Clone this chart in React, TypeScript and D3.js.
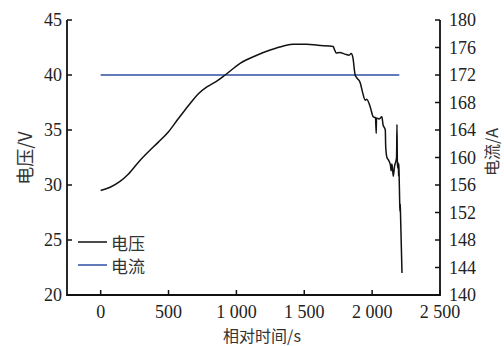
import React from "react";
import * as d3 from "d3";

const timeS = [0, 70, 140, 205, 280, 350, 425, 500, 570, 620, 671, 720, 780, 850, 917, 1027, 1150, 1249, 1347, 1420, 1519, 1600, 1713, 1720, 1735, 1760, 1800, 1830, 1845, 1858, 1875, 1890, 1912, 1930, 1949, 1960, 1986, 2008, 2025, 2030, 2032, 2050, 2072, 2080, 2097, 2100, 2109, 2119, 2135, 2140, 2145, 2150, 2156, 2165, 2180, 2183, 2186, 2190, 2193, 2195, 2197, 2199, 2203, 2205, 2207, 2209, 2220];
const voltage = [29.5, 29.8, 30.3, 31.0, 32.1, 33.0, 33.9, 34.85, 36.0, 36.8, 37.6, 38.3, 38.9, 39.4, 40.0, 41.06, 41.8, 42.27, 42.64, 42.8, 42.8, 42.7, 42.6, 42.4, 42.0, 42.05, 41.9, 41.8, 41.95, 41.6, 40.0, 39.7, 39.3, 38.4, 37.7, 37.8, 37.1, 36.2, 36.1, 34.7, 36.1, 36.0, 36.2, 35.5, 35.0, 33.5, 32.5, 32.3, 31.8, 31.3, 31.9, 31.5, 30.8, 31.7, 32.5, 35.5, 32.0, 31.5, 32.0, 30.8, 31.9, 30.9, 28.4, 27.6, 28.3, 27.4, 22.0];
const currentTime = [0, 2200];
const current = [172, 172];

const xTicks = [0, 500, 1000, 1500, 2000, 2500];
const leftTicks = [20, 25, 30, 35, 40, 45];
const rightTicks = [140, 144, 148, 152, 156, 160, 164, 168, 172, 176, 180];
const legendLabels = ["电压", "电流"];
const xTitle = "相对时间/s";
const leftTitle = "电压/V";
const rightTitle = "电流/A";

const W = 504, H = 346;
const left = 67, right = 440, top = 20, bottom = 295;
const serif = "'Liberation Serif', 'Times New Roman', serif";
const cjk = "'Noto Sans CJK SC', sans-serif";
const blue = "#2f4fa3";

const fmt = (v: number) => {
  const s = String(v);
  return s.length > 3 ? s.slice(0, s.length - 3) + " " + s.slice(-3) : s;
};

export default function App() {
  const x = d3.scaleLinear().domain([-248, 2500]).range([left, right]);
  const yL = d3.scaleLinear().domain([20, 45]).range([bottom, top]);
  const yR = d3.scaleLinear().domain([140, 180]).range([bottom, top]);

  const vData = timeS.map((t, i) => [t, voltage[i]] as [number, number]);
  const cData = currentTime.map((t, i) => [t, current[i]] as [number, number]);
  const vLine = d3.line<[number, number]>().x(d => x(d[0])).y(d => yL(d[1])).curve(d3.curveMonotoneX);
  const cLine = d3.line<[number, number]>().x(d => x(d[0])).y(d => yR(d[1]));

  const tickLen = 5;
  return (
    <svg width={W} height={H} style={{ position: "absolute", left: 0, top: 0, background: "#fff" }}>
      <rect x={0} y={0} width={W} height={H} fill="#fff" />
      <path d={`M${left},${top}V${bottom}H${right}V${top}`} fill="none" stroke="#111" strokeWidth={1.8} />
      {leftTicks.map(t => (
        <g key={"l" + t}>
          <line x1={left} x2={left + tickLen} y1={yL(t)} y2={yL(t)} stroke="#111" strokeWidth={1.5} />
          <text x={left - 5} y={yL(t)} textAnchor="end" dominantBaseline="central" fontFamily={serif} fontSize={18} fill="#222">{t}</text>
        </g>
      ))}
      {rightTicks.map(t => (
        <g key={"r" + t}>
          <line x1={right} x2={right - tickLen} y1={yR(t)} y2={yR(t)} stroke="#111" strokeWidth={1.5} />
          <text x={right + 9} y={yR(t)} textAnchor="start" dominantBaseline="central" fontFamily={serif} fontSize={18} fill="#222">{t}</text>
        </g>
      ))}
      {xTicks.map(t => (
        <g key={"x" + t}>
          <line x1={x(t)} x2={x(t)} y1={bottom} y2={bottom - tickLen} stroke="#111" strokeWidth={1.5} />
          <text x={x(t)} y={318} textAnchor="middle" fontFamily={serif} fontSize={18} fill="#222">{fmt(t)}</text>
        </g>
      ))}
      <text x={262} y={342} textAnchor="middle" fontFamily={cjk} fontSize={16} fill="#333">{xTitle}</text>
      <text transform={`translate(24,158) rotate(-90)`} textAnchor="middle" dominantBaseline="central" fontFamily={cjk} fontSize={18} fill="#333">{leftTitle}</text>
      <text transform={`translate(491,152) rotate(-90)`} textAnchor="middle" dominantBaseline="central" fontFamily={cjk} fontSize={16} fill="#333">{rightTitle}</text>
      <path d={cLine(cData) || ""} fill="none" stroke={blue} strokeWidth={1.3} />
      <path d={vLine(vData) || ""} fill="none" stroke="#111" strokeWidth={1.5} strokeLinejoin="round" />
      {legendLabels.map((lab, i) => (
        <g key={lab}>
          <line x1={78} x2={107} y1={242 + i * 23} y2={242 + i * 23} stroke={i === 0 ? "#111" : blue} strokeWidth={1.5} />
          <text x={111} y={242 + i * 23} dominantBaseline="central" fontFamily={cjk} fontSize={17} fill="#333">{lab}</text>
        </g>
      ))}
    </svg>
  );
}
